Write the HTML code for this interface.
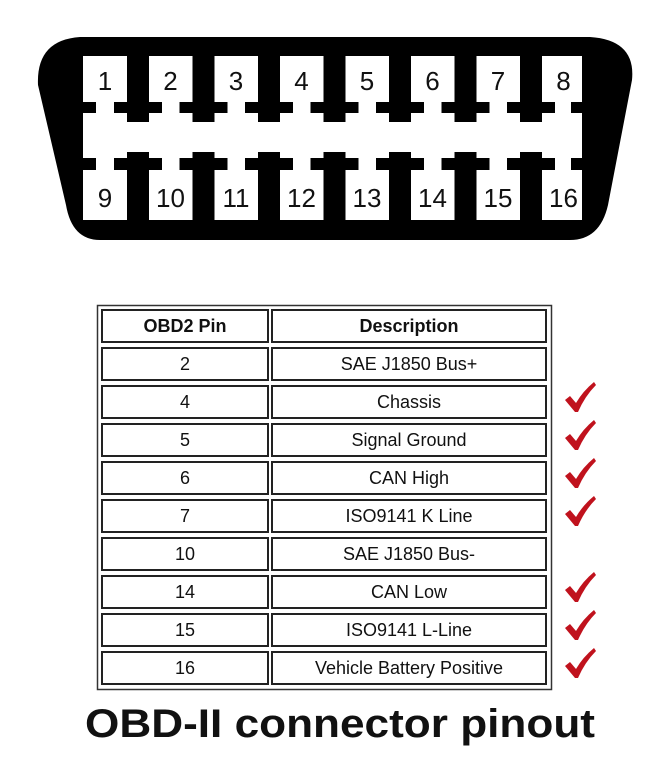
<!DOCTYPE html>
<html><head><style>html,body{margin:0;padding:0;background:#fff}svg{display:block}</style></head>
<body>
<svg width="668" height="784" viewBox="0 0 668 784" xmlns="http://www.w3.org/2000/svg" font-family="Liberation Sans, Arial, sans-serif">
<path d="M80 37 L590 37 Q636 40 632 80 L608 205 Q600 240 570 240 L100 240 Q72 240 66 205 L38 85 Q36 40 80 37 Z" fill="#000"/>
<rect x="83" y="56" width="499" height="164" fill="#fff"/>
<g fill="#000">
<rect x="83" y="102" width="13" height="11"/><rect x="571" y="102" width="11" height="11"/>
<rect x="83" y="158" width="13" height="12"/><rect x="571" y="158" width="11" height="12"/>
</g>
<g fill="#000" id="stems">
<g transform="translate(0,0)"><rect x="127" y="56" width="22" height="66"/><rect x="114" y="102" width="48" height="11"/><rect x="127" y="152" width="22" height="68"/><rect x="114" y="158" width="48" height="12"/></g>
<g transform="translate(65.5,0)"><rect x="127" y="56" width="22" height="66"/><rect x="114" y="102" width="48" height="11"/><rect x="127" y="152" width="22" height="68"/><rect x="114" y="158" width="48" height="12"/></g>
<g transform="translate(131,0)"><rect x="127" y="56" width="22" height="66"/><rect x="114" y="102" width="48" height="11"/><rect x="127" y="152" width="22" height="68"/><rect x="114" y="158" width="48" height="12"/></g>
<g transform="translate(196.5,0)"><rect x="127" y="56" width="22" height="66"/><rect x="114" y="102" width="48" height="11"/><rect x="127" y="152" width="22" height="68"/><rect x="114" y="158" width="48" height="12"/></g>
<g transform="translate(262,0)"><rect x="127" y="56" width="22" height="66"/><rect x="114" y="102" width="48" height="11"/><rect x="127" y="152" width="22" height="68"/><rect x="114" y="158" width="48" height="12"/></g>
<g transform="translate(327.5,0)"><rect x="127" y="56" width="22" height="66"/><rect x="114" y="102" width="48" height="11"/><rect x="127" y="152" width="22" height="68"/><rect x="114" y="158" width="48" height="12"/></g>
<g transform="translate(393,0)"><rect x="127" y="56" width="22" height="66"/><rect x="114" y="102" width="48" height="11"/><rect x="127" y="152" width="22" height="68"/><rect x="114" y="158" width="48" height="12"/></g>
</g>
<g font-size="26" fill="#111" text-anchor="middle">
<text x="105" y="90">1</text><text x="170.5" y="90">2</text><text x="236" y="90">3</text><text x="301.5" y="90">4</text><text x="367" y="90">5</text><text x="432.5" y="90">6</text><text x="498" y="90">7</text><text x="563.5" y="90">8</text>
<text x="105" y="207">9</text><text x="170.5" y="207">10</text><text x="236" y="207">11</text><text x="301.5" y="207">12</text><text x="367" y="207">13</text><text x="432.5" y="207">14</text><text x="498" y="207">15</text><text x="563.5" y="207">16</text>
</g>
<rect x="97.5" y="305.5" width="454" height="384" fill="#fff" stroke="#333" stroke-width="1.5"/>
<g fill="#fff" stroke="#222" stroke-width="2">
<rect x="102" y="310" width="166" height="32"/><rect x="272" y="310" width="274" height="32"/>
<rect x="102" y="348" width="166" height="32"/><rect x="272" y="348" width="274" height="32"/>
<rect x="102" y="386" width="166" height="32"/><rect x="272" y="386" width="274" height="32"/>
<rect x="102" y="424" width="166" height="32"/><rect x="272" y="424" width="274" height="32"/>
<rect x="102" y="462" width="166" height="32"/><rect x="272" y="462" width="274" height="32"/>
<rect x="102" y="500" width="166" height="32"/><rect x="272" y="500" width="274" height="32"/>
<rect x="102" y="538" width="166" height="32"/><rect x="272" y="538" width="274" height="32"/>
<rect x="102" y="576" width="166" height="32"/><rect x="272" y="576" width="274" height="32"/>
<rect x="102" y="614" width="166" height="32"/><rect x="272" y="614" width="274" height="32"/>
<rect x="102" y="652" width="166" height="32"/><rect x="272" y="652" width="274" height="32"/>
</g>
<g font-size="18" fill="#111" text-anchor="middle">
<text x="185" y="332" font-weight="bold">OBD2 Pin</text><text x="409" y="332" font-weight="bold">Description</text>
<text x="185" y="370">2</text><text x="409" y="370">SAE J1850 Bus+</text>
<text x="185" y="408">4</text><text x="409" y="408">Chassis</text>
<text x="185" y="446">5</text><text x="409" y="446">Signal Ground</text>
<text x="185" y="484">6</text><text x="409" y="484">CAN High</text>
<text x="185" y="522">7</text><text x="409" y="522">ISO9141 K Line</text>
<text x="185" y="560">10</text><text x="409" y="560">SAE J1850 Bus-</text>
<text x="185" y="598">14</text><text x="409" y="598">CAN Low</text>
<text x="185" y="636">15</text><text x="409" y="636">ISO9141 L-Line</text>
<text x="185" y="674">16</text><text x="409" y="674">Vehicle Battery Positive</text>
</g>
<defs><path id="ck" d="M0 14 L5 10 L11 17 Q18 5 29 -4 L31 -1 Q20 10 13 26 L10 26 Z" fill="#c0121d"/></defs>
<use href="#ck" x="565" y="386"/><use href="#ck" x="565" y="424"/><use href="#ck" x="565" y="462"/><use href="#ck" x="565" y="500"/>
<use href="#ck" x="565" y="576"/><use href="#ck" x="565" y="614"/><use href="#ck" x="565" y="652"/>
<text x="85" y="737" font-size="40" font-weight="bold" fill="#111" textLength="510" lengthAdjust="spacingAndGlyphs">OBD-II connector pinout</text>
</svg>
</body></html>
